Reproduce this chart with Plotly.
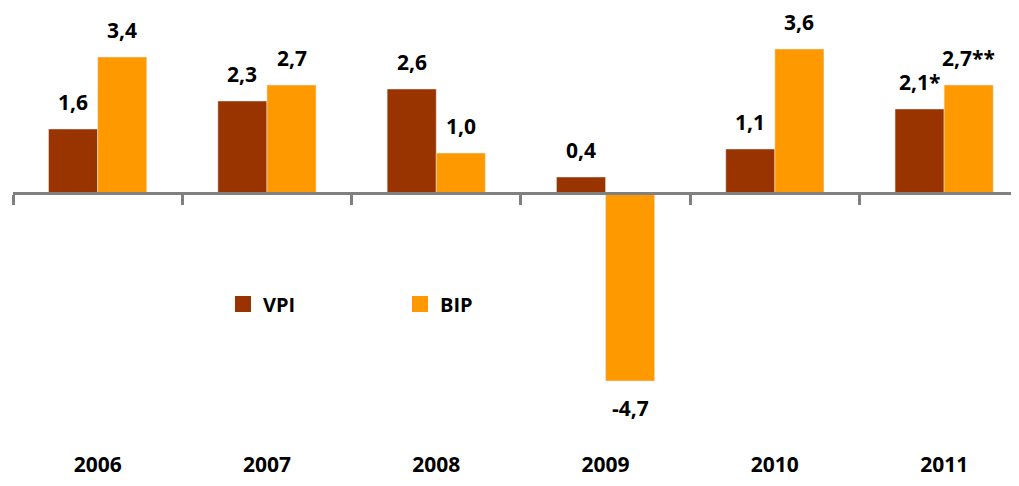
import plotly.graph_objects as go

years = ["2006", "2007", "2008", "2009", "2010", "2011"]
vpi = [1.6, 2.3, 2.6, 0.4, 1.1, 2.1]
bip = [3.4, 2.7, 1.0, -4.7, 3.6, 2.7]
vpi_labels = ["1,6", "2,3", "2,6", "0,4", "1,1", "2,1*"]
bip_labels = ["3,4", "2,7", "1,0", "-4,7", "3,6", "2,7**"]

VPI_COLOR = "#993300"
BIP_COLOR = "#FF9900"
FONT = "Open Sans"

xs = list(range(len(years)))
bargap = 0.42
half = (1 - bargap) / 4  # center offset of each bar within group

fig = go.Figure()
fig.add_trace(go.Bar(x=xs, y=vpi, marker_color=VPI_COLOR, showlegend=False, name="VPI"))
fig.add_trace(go.Bar(x=xs, y=bip, marker_color=BIP_COLOR, showlegend=False, name="BIP"))

# legend-only entries with square markers
fig.add_trace(go.Scatter(x=[None], y=[None], mode="markers", name="<b>VPI</b>",
                         marker=dict(symbol="square", size=17, color=VPI_COLOR)))
fig.add_trace(go.Scatter(x=[None], y=[None], mode="markers", name="<b>BIP</b>",
                         marker=dict(symbol="square", size=17, color=BIP_COLOR)))

# data labels
for vals, labels, off in ((vpi, vpi_labels, -half), (bip, bip_labels, half)):
    for i, (v, t) in enumerate(zip(vals, labels)):
        fig.add_annotation(x=i + off, y=v, text=f"<b>{t}</b>", showarrow=False,
                           yanchor="bottom" if v >= 0 else "top",
                           yshift=11 if v >= 0 else -11,
                           font=dict(family=FONT, size=21, color="black"))

# page body has an 8px margin; compensate
OFF = 8
W, H = 1019 - OFF, 486 - OFF
ml, mr, mt, mb = 13 - OFF, 0, 0, 36
plot_h = H - mt - mb
px_per_unit = 40.0
zero_px = 193 - OFF
y_top = (zero_px - mt) / px_per_unit
y_bot = -(mt + plot_h - zero_px) / px_per_unit
cat_px = 169.3
x_lo = -0.5
x_hi = x_lo + (W - ml - mr) / cat_px
zero_frac = (0 - y_bot) / (y_top - y_bot)

fig.update_layout(
    width=W, height=H,
    margin=dict(l=ml, r=mr, t=mt, b=mb),
    plot_bgcolor="white", paper_bgcolor="white",
    barmode="group", bargap=bargap, bargroupgap=0,
    xaxis=dict(range=[x_lo, x_hi], tickvals=xs, ticktext=[f"<b>{y}</b>" for y in years],
               showline=False, showgrid=False, zeroline=False, ticks="",
               tickfont=dict(family=FONT, size=21, color="black")),
    xaxis2=dict(range=[x_lo, x_hi], overlaying="x", anchor="free", position=zero_frac,
                side="bottom", showline=True, linecolor="#808080", linewidth=3,
                ticks="outside", tickvals=[i - 0.5 for i in range(len(years))],
                ticklen=10, tickwidth=3, tickcolor="#808080",
                showticklabels=False, showgrid=False, zeroline=False),
    yaxis=dict(range=[y_bot, y_top], visible=False),
    legend=dict(orientation="h", x=(223 - 13) / (W - ml - mr), xanchor="left",
                y=1 - (304 - 8 - mt) / plot_h, yanchor="middle",
                font=dict(family=FONT, size=20, color="black"),
                entrywidth=132, entrywidthmode="pixels", bgcolor="rgba(0,0,0,0)"),
)
# dummy trace on xaxis2 so the axis is drawn
fig.add_trace(go.Scatter(x=[None], y=[None], xaxis="x2", showlegend=False, hoverinfo="skip"))

fig.write_html("out.html")
